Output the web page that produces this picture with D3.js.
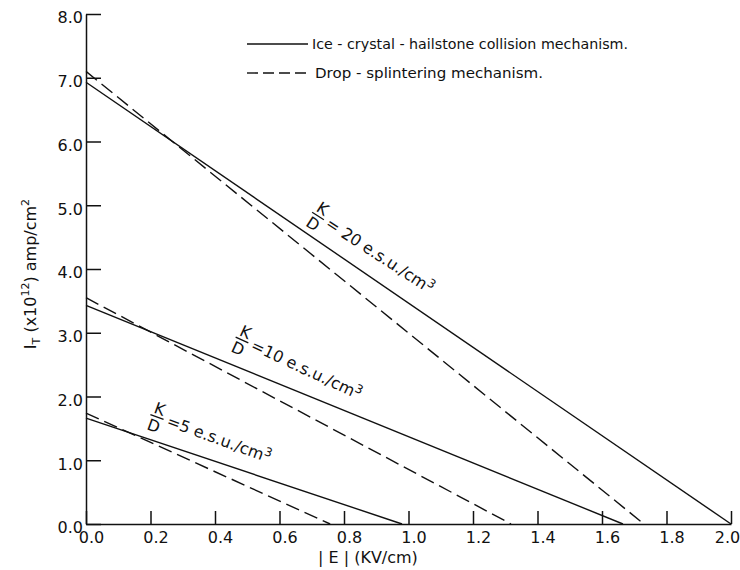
<!DOCTYPE html>
<html>
<head>
<meta charset="utf-8">
<script src="https://cdn.jsdelivr.net/npm/d3@7"></script>
<style>
  body { margin: 0; background: #fff; }
  svg text { font-family: "DejaVu Sans", sans-serif; fill: #111; }
</style>
</head>
<body>
<svg id="chart" width="740" height="570"></svg>
<script>
// Tick values
const xTicks = [0.0, 0.2, 0.4, 0.6, 0.8, 1.0, 1.2, 1.4, 1.6, 1.8, 2.0];
const yTicks = [0, 1, 2, 3, 4, 5, 6, 7, 8];

// K/D ratios (e.s.u./cm^3)
const ratios = [20, 10, 5];

// Ice-crystal/hailstone collision mechanism: [|E| (kV/cm), I_T (x10^12 amp/cm^2)]
const collision20 = [[0.0, 6.93], [2.0, 0.0]];
const collision10 = [[0.0, 3.43], [1.665, 0.0]];
const collision5  = [[0.0, 1.66], [0.98, 0.0]];

// Drop-splintering mechanism
const splinter20 = [[0.0, 7.10], [1.73, 0.0]];
const splinter10 = [[0.0, 3.55], [1.318, 0.0]];
const splinter5  = [[0.0, 1.74], [0.757, 0.0]];

const legendLabels = [
  "Ice - crystal - hailstone collision mechanism.",
  "Drop - splintering mechanism."
];

const svg = d3.select("#chart");
const ink = "#111";

const x = d3.scaleLinear().domain([0, 2]).range([86, 731]);
const y = d3.scaleLinear().domain([0, 8]).range([524, 14]);

// x axis, ticks pointing up into the plot
const gx = svg.append("g")
  .attr("transform", `translate(0,${y(0)})`)
  .call(d3.axisBottom(x).tickValues(xTicks).tickSize(-13).tickSizeOuter(0)
    .tickPadding(8).tickFormat(d3.format(".1f")));
gx.selectAll("text")
  .attr("x", (d, i) => i === xTicks.length - 1 ? -4 : 5)
  .style("font-size", "16px")
  .style("font-family", "DejaVu Sans, sans-serif");

// y axis, ticks pointing right into the plot
const gy = svg.append("g")
  .attr("transform", `translate(${x(0)},0)`)
  .call(d3.axisLeft(y).tickValues(yTicks).tickSize(-15).tickSizeOuter(0)
    .tickPadding(3).tickFormat(d3.format(".1f")));
gy.selectAll("text").attr("dy", "0.55em").style("font-size", "16px")
  .style("font-family", "DejaVu Sans, sans-serif");

svg.selectAll(".domain, .tick line").attr("stroke", ink).attr("stroke-width", 1.5);

// curves
const line = d3.line().x(d => x(d[0])).y(d => y(d[1]));
const solids = [collision20, collision10, collision5];
const dashes = [splinter20, splinter10, splinter5];

svg.selectAll("path.solid").data(solids).join("path")
  .attr("class", "solid").attr("d", line)
  .attr("fill", "none").attr("stroke", ink).attr("stroke-width", 1.4);

svg.selectAll("path.dashed").data(dashes).join("path")
  .attr("class", "dashed").attr("d", line)
  .attr("fill", "none").attr("stroke", ink).attr("stroke-width", 1.4)
  .attr("stroke-dasharray", "14,6");

// legend
const legend = svg.append("g");
legend.append("line").attr("x1", 247).attr("x2", 308).attr("y1", 44).attr("y2", 44)
  .attr("stroke", ink).attr("stroke-width", 1.4);
legend.append("line").attr("x1", 247).attr("x2", 310).attr("y1", 73).attr("y2", 73)
  .attr("stroke", ink).attr("stroke-width", 1.4).attr("stroke-dasharray", "11,5");
legend.append("text").attr("x", 312).attr("y", 49).style("font-size", "14px")
  .attr("textLength", 316).attr("lengthAdjust", "spacingAndGlyphs").text(legendLabels[0]);
legend.append("text").attr("x", 315).attr("y", 78).style("font-size", "14px")
  .attr("textLength", 228).attr("lengthAdjust", "spacingAndGlyphs").text(legendLabels[1]);

// K/D labels along the curves
const ratioLabelPos = [
  { cx: 318, cy: 216, angle: 33, sep: " " },
  { cx: 242, cy: 340, angle: 25, sep: "" },
  { cx: 157, cy: 417, angle: 20, sep: "" }
];
ratios.forEach((r, i) => {
  const p = ratioLabelPos[i];
  const g = svg.append("g").attr("transform", `translate(${p.cx},${p.cy}) rotate(${p.angle})`);
  g.append("text").attr("x", 0).attr("y", -3).attr("text-anchor", "middle")
    .style("font-size", "16px").text("K");
  g.append("line").attr("x1", -7).attr("x2", 7).attr("y1", 0).attr("y2", 0)
    .attr("stroke", ink).attr("stroke-width", 1.3);
  g.append("text").attr("x", 0).attr("y", 15).attr("text-anchor", "middle")
    .style("font-size", "16px").text("D");
  const t = g.append("text").attr("x", 11).attr("y", 5).style("font-size", "16px");
  t.append("tspan").text(`=${p.sep}${r} e.s.u./cm`);
  t.append("tspan").attr("dy", -6).style("font-size", "12px").text("3");
});

// axis titles
svg.append("text").attr("x", 318).attr("y", 563).style("font-size", "16px")
  .text("| E | (KV/cm)");

const yt = svg.append("text")
  .attr("transform", `translate(36,274) rotate(-90)`)
  .attr("text-anchor", "middle").style("font-size", "16px");
yt.append("tspan").text("I");
yt.append("tspan").attr("dy", 4).style("font-size", "11px").text("T");
yt.append("tspan").attr("dy", -4).text(" (x10");
yt.append("tspan").attr("dy", -7).style("font-size", "11px").text("12");
yt.append("tspan").attr("dy", 7).text(") amp/cm");
yt.append("tspan").attr("dy", -7).style("font-size", "11px").text("2");
</script>
</body>
</html>
